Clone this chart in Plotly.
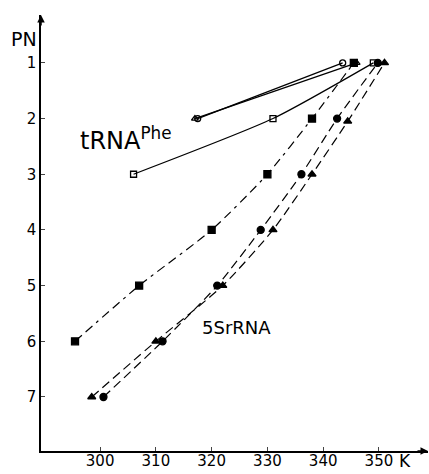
import plotly.graph_objects as go

# tRNA(Phe) series (open markers, solid lines)
trna_sq_x = [306, 331, 349]
trna_sq_y = [3, 2, 1]
trna_ci_x = [317.5, 343.5]
trna_ci_y = [2, 1]
trna_tr_x = [317, 346]
trna_tr_y = [2, 1]

# 5S rRNA series (filled markers, dashed lines)
s5_sq_x = [295.5, 307, 320, 330, 338, 345.5]
s5_sq_y = [6, 5, 4, 3, 2, 1]
s5_ci_x = [300.6, 311.2, 321, 328.8, 336.1, 342.5, 349.8]
s5_ci_y = [7, 6, 5, 4, 3, 2, 1]
s5_tr_x = [298.5, 310, 322, 331, 338, 344.4, 351]
s5_tr_y = [7, 6, 5, 4, 3, 2.05, 1]

x_ticks = [300, 310, 320, 330, 340, 350]
y_ticks = [1, 2, 3, 4, 5, 6, 7]

FONT = "DejaVu Sans"
fig = go.Figure()

def add(x, y, symbol, dash, size=7):
    fig.add_trace(go.Scatter(
        x=x, y=y, mode="lines+markers",
        line=dict(color="black", width=1.2, dash=dash, shape="spline", smoothing=0.6),
        marker=dict(symbol=symbol, size=size, color="black",
                    line=dict(color="black", width=1.3)),
        showlegend=False, cliponaxis=False))

add(trna_sq_x, trna_sq_y, "square-open", "solid", 6)
add(trna_ci_x, trna_ci_y, "circle-open", "solid", 6)
add(trna_tr_x, trna_tr_y, "triangle-up-open", "solid", 6)
add(s5_sq_x, s5_sq_y, "square", "9px,5px,9px,5px,3px,5px", 7)
add(s5_ci_x, s5_ci_y, "circle", "9px,5px", 7)
add(s5_tr_x, s5_tr_y, "triangle-up", "9px,5px", 7)

xr = [289.4, 358.8]
yr = [7.97, 0.14]

fig.update_layout(
    width=429, height=474,
    margin=dict(l=41, r=1, t=15, b=23),
    paper_bgcolor="white", plot_bgcolor="white",
    font=dict(family=FONT, size=15, color="black"),
    xaxis=dict(range=xr, tickvals=x_ticks, ticks="inside", ticklen=4,
               showline=True, linecolor="black", linewidth=1.5,
               showgrid=False, zeroline=False, tickfont=dict(size=15),
               ticklabelstandoff=-5, automargin=False),
    yaxis=dict(range=yr, tickvals=y_ticks, ticks="inside", ticklen=4,
               showline=True, linecolor="black", linewidth=1.5,
               showgrid=False, zeroline=False, tickfont=dict(size=15),
               automargin=False),
    annotations=[
        dict(x=xr[1], y=yr[0], xref="x", yref="y", text="", showarrow=True,
             ax=-12, ay=0, arrowhead=2, arrowwidth=1.5, arrowcolor="black"),
        dict(x=xr[0], y=yr[1], xref="x", yref="y", text="", showarrow=True,
             ax=0, ay=12, arrowhead=2, arrowwidth=1.5, arrowcolor="black"),
        dict(x=xr[0], y=0.57, xref="x", yref="y", text="PN", showarrow=False,
             xanchor="right", xshift=-2, font=dict(size=19)),
        dict(x=354.6, y=-0.024, xref="x", yref="paper", text="K", showarrow=False,
             yanchor="middle", font=dict(size=17)),
        dict(x=296.4, y=2.36, xref="x", yref="y", text="tRNA<sup>Phe</sup>",
             showarrow=False, xanchor="left", xshift=-2, font=dict(size=24)),
        dict(x=324.4, y=5.76, xref="x", yref="y", text="5SrRNA",
             showarrow=False, font=dict(size=18)),
    ],
)

fig.write_html("out.html", config={"displayModeBar": False},
               post_script="document.body.style.margin='0px';")
